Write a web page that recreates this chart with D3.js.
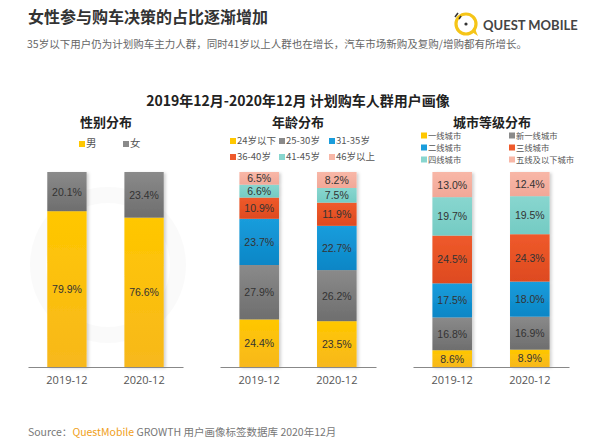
<!DOCTYPE html>
<html><head><meta charset="utf-8">
<script src="https://cdn.jsdelivr.net/npm/d3@7"></script>
<style>
body{margin:0;background:#fff;}
svg{display:block;font-family:"Noto Sans CJK SC","Noto Sans",sans-serif;}
</style></head><body>
<script>
// ---- data ----
const periods = ["2019-12", "2020-12"];
const genderCats = ["男", "女"];
const genderVals = [[79.9, 20.1], [76.6, 23.4]];
const ageCats = ["24岁以下", "25-30岁", "31-35岁", "36-40岁", "41-45岁", "46岁以上"];
const ageVals = [[24.4, 27.9, 23.7, 10.9, 6.6, 6.5], [23.5, 26.2, 22.7, 11.9, 7.5, 8.2]];
const cityCats = ["一线城市", "新一线城市", "二线城市", "三线城市", "四线城市", "五线及以下城市"];
const cityVals = [[8.6, 16.8, 17.5, 24.5, 19.7, 13.0], [8.9, 16.9, 18.0, 24.3, 19.5, 12.4]];
const palette = ["#ffc700", "#8a8a8a", "#1a9ddc", "#ef5a2b", "#88d6cf", "#f8b7a7"];
const paletteDark = ["#f7b81c", "#6e6e6e", "#0b86c6", "#de4a1f", "#74cbc3", "#f1a898"];

const W = 596, H = 447;
const svg = d3.select("body").append("svg").attr("width", W).attr("height", H);
const defs = svg.append("defs");
palette.forEach((c, i) => {
  const g = defs.append("linearGradient").attr("id", "g" + i).attr("x1", 0).attr("y1", 0).attr("x2", 0).attr("y2", 1);
  g.append("stop").attr("offset", "0%").attr("stop-color", c);
  g.append("stop").attr("offset", "100%").attr("stop-color", paletteDark[i]);
});
const f = defs.append("filter").attr("id", "sh").attr("x", "-20%").attr("y", "-5%").attr("width", "150%").attr("height", "115%");
f.append("feDropShadow").attr("dx", 2).attr("dy", 1).attr("stdDeviation", 1.5).attr("flood-color", "#000").attr("flood-opacity", 0.18);

// faint watermark ring
svg.append("circle").attr("cx", 108).attr("cy", 265).attr("r", 70).attr("fill", "none").attr("stroke", "#888").attr("stroke-width", 16).attr("opacity", 0.04);

// header
svg.append("text").attr("x", 28).attr("y", 23).attr("font-size", 16).attr("font-weight", 700).attr("fill", "#333").text("女性参与购车决策的占比逐渐增加");
svg.append("text").attr("x", 27).attr("y", 48).attr("font-size", 10.5).attr("fill", "#666").text("35岁以下用户仍为计划购车主力人群，同时41岁以上人群也在增长，汽车市场新购及复购/增购都有所增长。");

// logo
const logo = svg.append("g");
logo.append("circle").attr("cx", 466).attr("cy", 24).attr("r", 10).attr("fill", "none").attr("stroke", "#f5c518").attr("stroke-width", 3.2);
logo.append("path").attr("d", "M 472 32 L 478 36 L 475 29").attr("fill", "#f5c518");
logo.append("circle").attr("cx", 466).attr("cy", 24).attr("r", 1.6).attr("fill", "#333");
logo.append("line").attr("x1", 455).attr("y1", 17).attr("x2", 458).attr("y2", 13).attr("stroke", "#333").attr("stroke-width", 1.5);
logo.append("line").attr("x1", 459).attr("y1", 19).attr("x2", 461).attr("y2", 16).attr("stroke", "#333").attr("stroke-width", 1.5);
logo.append("text").attr("x", 483).attr("y", 30).attr("font-size", 13).attr("font-weight", 700).attr("fill", "#444").attr("font-family", "Lato,'Open Sans',sans-serif").text("QUEST MOBILE");

// main title
svg.append("text").attr("x", 298).attr("y", 106).attr("text-anchor", "middle").attr("font-size", 14).attr("font-weight", 700).attr("fill", "#222").text("2019年12月-2020年12月 计划购车人群用户画像");

const y = d3.scaleLinear().domain([0, 100]).range([367, 172]);

function panel(opts) {
  const g = svg.append("g");
  g.append("text").attr("x", opts.cx).attr("y", 127).attr("text-anchor", "middle").attr("font-size", 13).attr("font-weight", 700).attr("fill", "#222").text(opts.title);
  // legend
  opts.legend.forEach((l, i) => {
    g.append("rect").attr("x", l.x).attr("y", l.y - 3).attr("width", 6).attr("height", 6).attr("fill", palette[opts.colorIdx[i]]);
    g.append("text").attr("x", l.x + 7).attr("y", l.y + 3.2).attr("font-size", opts.lfs).attr("fill", "#555").text(opts.cats[i]);
  });
  const xb = d3.scaleBand().domain(periods).range([opts.x0, opts.x1]).paddingInner(0.49).paddingOuter(0.25);
  periods.forEach((p, pi) => {
    let acc = 0;
    const bg = g.append("g").attr("filter", "url(#sh)");
    opts.vals[pi].forEach((v, i) => {
      const top = Math.min(acc + v, 100);
      bg.append("rect").attr("x", xb(p)).attr("width", xb.bandwidth())
        .attr("y", y(top)).attr("height", y(acc) - y(top)).attr("fill", "url(#g" + opts.colorIdx[i] + ")");
      g.append("text").attr("x", xb(p) + xb.bandwidth() / 2).attr("y", (y(acc) + y(top)) / 2 + 4)
        .attr("text-anchor", "middle").attr("font-size", 10.5).attr("fill", "#333").attr("font-family", "'Liberation Sans',Arial,sans-serif").text(v.toFixed(1) + "%");
      acc = top;
    });
  });
  const ax = g.append("g").attr("transform", "translate(0,367)").call(d3.axisBottom(xb).tickSize(0).tickPadding(9));
  ax.select(".domain").attr("stroke", "#888").attr("stroke-width", 1.2);
  ax.selectAll("text").attr("font-size", 11).attr("fill", "#555").attr("font-family", "'Open Sans',sans-serif");
}

panel({title: "性别分布", cx: 106, cats: genderCats, vals: genderVals, colorIdx: [0, 1], x0: 28, x1: 183, lfs: 10.5,
  legend: [{x: 79, y: 144}, {x: 123, y: 144}]});
panel({title: "年龄分布", cx: 298, cats: ageCats, vals: ageVals, colorIdx: [0, 1, 2, 3, 4, 5], x0: 220, x1: 376, lfs: 9.5,
  legend: [{x: 230, y: 141}, {x: 279, y: 141}, {x: 329, y: 141}, {x: 230, y: 157}, {x: 279, y: 157}, {x: 329, y: 157}]});
panel({title: "城市等级分布", cx: 492, cats: cityCats, vals: cityVals, colorIdx: [0, 1, 2, 3, 4, 5], x0: 413, x1: 569, lfs: 8.3,
  legend: [{x: 421, y: 135.5}, {x: 509, y: 135.5}, {x: 421, y: 147.5}, {x: 509, y: 147.5}, {x: 421, y: 159.5}, {x: 509, y: 159.5}]});

// source
const src = svg.append("text").attr("x", 28).attr("y", 436).attr("font-size", 10.5).attr("fill", "#777");
src.append("tspan").text("Source：");
src.append("tspan").attr("fill", "#f0a020").text("QuestMobile");
src.append("tspan").text(" GROWTH 用户画像标签数据库 2020年12月");
</script>
</body></html>
